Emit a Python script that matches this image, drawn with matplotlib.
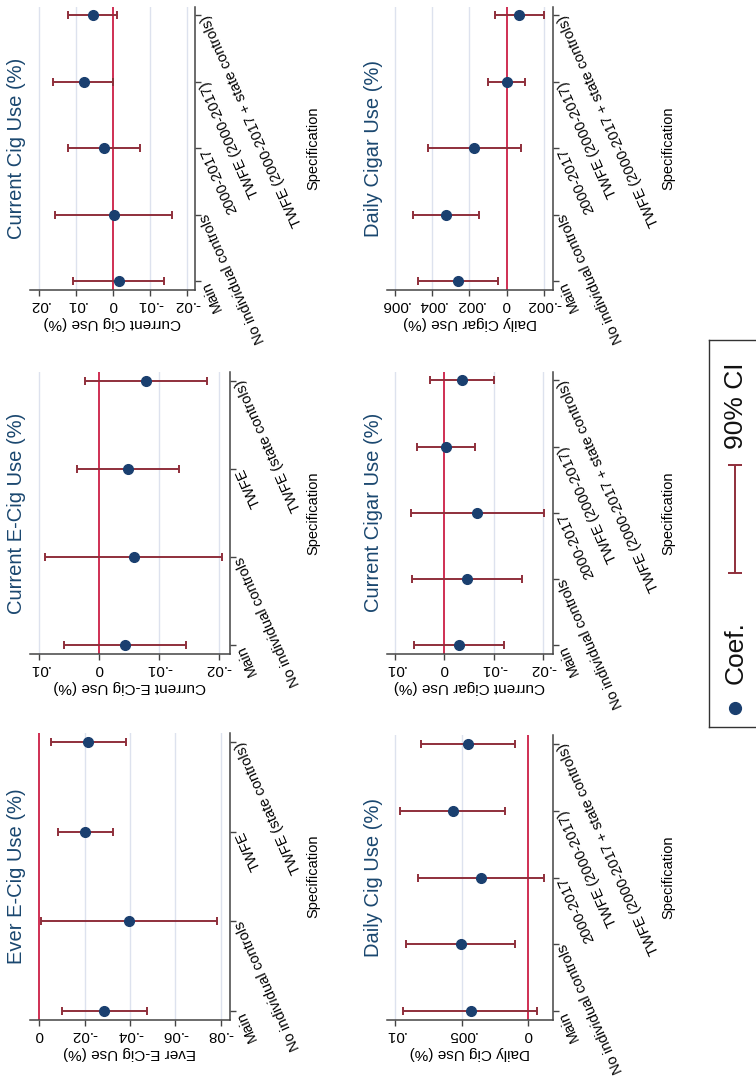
import matplotlib
matplotlib.use("Agg")
import matplotlib.pyplot as plt
import numpy as np

plt.rcParams['font.family'] = ['Liberation Sans', 'DejaVu Sans']

# ---------------- data ----------------
specs4 = ["Main", "No individual controls", "TWFE", "TWFE (state controls)"]
specs5 = ["Main", "No individual controls", "2000-2017", "TWFE (2000-2017)",
          "TWFE (2000-2017 + state controls)"]

ever_ecig_coef = [-0.0285, -0.0396, -0.0203, -0.0216]
ever_ecig_lo = [-0.0474, -0.0782, -0.0324, -0.0382]
ever_ecig_hi = [-0.0100, -0.0006, -0.0082, -0.0050]

cur_ecig_coef = [-0.00435, -0.0058, -0.0048, -0.0078]
cur_ecig_lo = [-0.01456, -0.0206, -0.01338, -0.0181]
cur_ecig_hi = [0.00591, 0.00904, 0.00374, 0.0024]

cur_cig_coef = [-0.00163, -0.0002, 0.00244, 0.00795, 0.0054]
cur_cig_lo = [-0.01381, -0.0160, -0.0073, 0.0, -0.0011]
cur_cig_hi = [0.01075, 0.0158, 0.0122, 0.0162, 0.0122]

daily_cig_coef = [0.004325, 0.005075, 0.00355, 0.005625, 0.0045]
daily_cig_lo = [-0.000675, 0.001025, -0.001175, 0.001775, 0.001025]
daily_cig_hi = [0.009375, 0.009175, 0.0083, 0.0096, 0.00805]

cur_cigar_coef = [-0.00297, -0.00452, -0.0066, -0.00027, -0.00364]
cur_cigar_lo = [-0.01207, -0.01558, -0.0201, -0.00614, -0.00998]
cur_cigar_hi = [0.0062, 0.0066, 0.0068, 0.00553, 0.00283]

daily_cigar_coef = [0.0026, 0.00326, 0.00174, 0.0, -0.00068]
daily_cigar_lo = [0.00045, 0.00151, -0.00077, -0.00099, -0.00199]
daily_cigar_hi = [0.00479, 0.00502, 0.00425, 0.00102, 0.00061]

ever_ecig_ticks = [0, -0.02, -0.04, -0.06, -0.08]
ever_ecig_ticklabels = ["0", "-.02", "-.04", "-.06", "-.08"]
cur_ecig_ticks = [0.01, 0, -0.01, -0.02]
cur_ecig_ticklabels = [".01", "0", "-.01", "-.02"]
cur_cig_ticks = [0.02, 0.01, 0, -0.01, -0.02]
cur_cig_ticklabels = [".02", ".01", "0", "-.01", "-.02"]
daily_cig_ticks = [0.01, 0.005, 0]
daily_cig_ticklabels = [".01", ".005", "0"]
cur_cigar_ticks = [0.01, 0, -0.01, -0.02]
cur_cigar_ticklabels = [".01", "0", "-.01", "-.02"]
daily_cigar_ticks = [0.006, 0.004, 0.002, 0, -0.002]
daily_cigar_ticklabels = [".006", ".004", ".002", "0", "-.002"]

titles = ["Current Cig Use (%)", "Current E-Cig Use (%)", "Ever E-Cig Use (%)",
          "Daily Cigar Use (%)", "Current Cigar Use (%)", "Daily Cig Use (%)"]
legend_labels = ["Coef.", "90% CI"]
xtitle = "Specification"

# ---------------- style / layout ----------------
W, H = 756, 1078
NAVY = "#1a3f6f"
TITLE_C = "#1a476f"
CI_C = "#8f2f3b"
ZERO_C = "#cc1f45"
GRID_C = "#dde2ee"
AX_C = "#444444"

fig = plt.figure(figsize=(W / 100, H / 100), dpi=100)
fig.patch.set_facecolor("white")


def rect(x0, y0, x1, y1):
    return [x0 / W, 1 - y1 / H, (x1 - x0) / W, (y1 - y0) / H]


panels = [
    dict(t=titles[0], specs=specs5, c=cur_cig_coef, lo=cur_cig_lo, hi=cur_cig_hi,
         ticks=cur_cig_ticks, tl=cur_cig_ticklabels, box=(30, 6.7, 195, 290),
         xlim=(0.0225, -0.0222), sx=313),
    dict(t=titles[1], specs=specs4, c=cur_ecig_coef, lo=cur_ecig_lo, hi=cur_ecig_hi,
         ticks=cur_ecig_ticks, tl=cur_ecig_ticklabels, box=(30, 372, 230, 654),
         xlim=(0.01156, -0.0219), sx=313),
    dict(t=titles[2], specs=specs4, c=ever_ecig_coef, lo=ever_ecig_lo, hi=ever_ecig_hi,
         ticks=ever_ecig_ticks, tl=ever_ecig_ticklabels, box=(30, 733, 230, 1020),
         xlim=(0.0041, -0.0841), sx=313),
    dict(t=titles[3], specs=specs5, c=daily_cigar_coef, lo=daily_cigar_lo, hi=daily_cigar_hi,
         ticks=daily_cigar_ticks, tl=daily_cigar_ticklabels, box=(386.7, 6.7, 552.7, 290),
         xlim=(0.00645, -0.00248), sx=668),
    dict(t=titles[4], specs=specs5, c=cur_cigar_coef, lo=cur_cigar_lo, hi=cur_cigar_hi,
         ticks=cur_cigar_ticks, tl=cur_cigar_ticklabels, box=(386.7, 371.7, 552.7, 654),
         xlim=(0.01169, -0.02189), sx=668),
    dict(t=titles[5], specs=specs5, c=daily_cig_coef, lo=daily_cig_lo, hi=daily_cig_hi,
         ticks=daily_cig_ticks, tl=daily_cig_ticklabels, box=(386.7, 735, 552.7, 1020),
         xlim=(0.010625, -0.001825), sx=668),
]

for p in panels:
    x0, y0, x1, y1 = p["box"]
    ax = fig.add_axes(rect(x0, y0, x1, y1))
    n = len(p["specs"])
    pos = np.arange(1, n + 1)
    c = np.array(p["c"])
    lo = np.array(p["lo"])
    hi = np.array(p["hi"])
    for t in p["ticks"]:
        if t != 0:
            ax.axvline(t, color=GRID_C, lw=1.0, zorder=0)
    ax.axvline(0, color=ZERO_C, lw=1.3, zorder=1)
    ax.errorbar(c, pos, xerr=[c - lo, hi - c], fmt="none", ecolor=CI_C,
                elinewidth=1.4, capsize=3.2, capthick=1.4, zorder=2)
    ax.plot(c, pos, "o", color=NAVY, ms=7, mec=NAVY, zorder=3)
    ax.set_xlim(*p["xlim"])
    if n == 5:
        ax.set_ylim(0.87, 5.13)
    else:
        ax.set_ylim(0.9, 4.1)
    for s in ["top", "left"]:
        ax.spines[s].set_visible(False)
    for s in ["bottom", "right"]:
        ax.spines[s].set_color(AX_C)
        ax.spines[s].set_linewidth(1.1)
    ax.set_xticks(p["ticks"])
    ax.set_xticklabels(p["tl"], rotation=180, fontsize=11)
    ax.yaxis.tick_right()
    ax.set_yticks(pos)
    ax.set_yticklabels(p["specs"], rotation=114, ha="right", va="center",
                       rotation_mode="anchor", fontsize=10.5)
    ax.tick_params(axis="x", length=4.5, width=1, color=AX_C, pad=1.5)
    ax.tick_params(axis="y", length=4.5, width=1, color=AX_C, pad=2.5)
    ax.set_facecolor("white")
    # panel title (reads bottom-to-top)
    ax.annotate(p["t"], xy=(0, 0.5), xycoords="axes fraction", xytext=(-13, 0),
                textcoords="offset pixels", rotation=90, ha="center", va="center",
                fontsize=14.5, color=TITLE_C)
    # axis title (upside down)
    ax.annotate(p["t"], xy=(0.5, 0), xycoords="axes fraction", xytext=(0, -33),
                textcoords="offset pixels", rotation=180, ha="center", va="center",
                fontsize=11, color="black")
    # specification label
    yc = (y0 + y1) / 2
    fig.text(p["sx"] / W, 1 - yc / H, xtitle, rotation=90, ha="center", va="center",
             fontsize=10.5)

# ---------------- legend ----------------
lx0, ly0, lx1, ly1 = 709, 340, 756, 727
lax = fig.add_axes(rect(lx0, ly0, lx1, ly1))
lax.set_xlim(lx0, lx1)
lax.set_ylim(ly1, ly0)
lax.set_xticks([])
lax.set_yticks([])
for s in lax.spines.values():
    s.set_color("#333333")
    s.set_linewidth(1.0)
lax.spines["right"].set_visible(False)
lax.plot([735], [708], "o", color=NAVY, ms=8.5)
lax.errorbar([735], [519], yerr=[[54], [54]], fmt="none", ecolor=CI_C,
             elinewidth=1.4, capsize=5, capthick=1.4)
lax.text(736, 684, legend_labels[0], rotation=90, ha="left", va="center",
         rotation_mode="anchor", fontsize=19, color="#111111")
lax.text(736, 449, legend_labels[1], rotation=90, ha="left", va="center",
         rotation_mode="anchor", fontsize=19, color="#111111")

fig.savefig("out.png", dpi=100, facecolor="white")
